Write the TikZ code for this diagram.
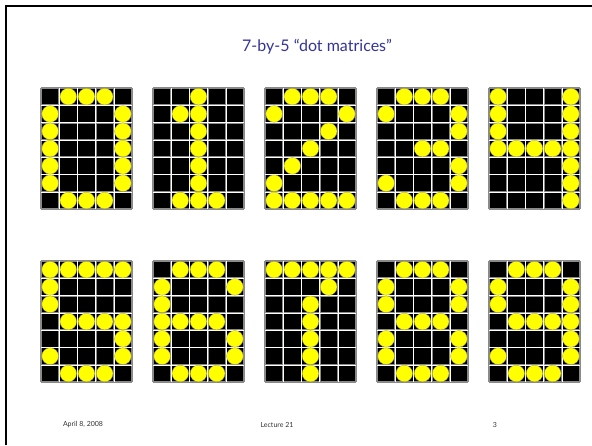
\documentclass[tikz,border=0pt]{standalone}
\usepackage{fontspec}
\setmainfont{Lato}
\usepackage{xcolor}
\usepackage{tikz}
\usetikzlibrary{positioning}
\definecolor{titleblue}{HTML}{333399}
\definecolor{dotyellow}{HTML}{FFFF00}
\definecolor{gridgray}{HTML}{8A8A8A}

\newcommand{\cellw}{18.2}
\newcommand{\cellh}{17.3}
% #1 = left x, #2 = top y, #3 = the seven rows, in binary
\newcommand{\dotmatrix}[3]{%
    \fill[black] (#1,#2) rectangle ++(5*\cellw,7*\cellh);
    \foreach \i in {0,...,5}
        \draw[gridline] (#1+\i*\cellw,#2) -- ++(0,7*\cellh);
    \foreach \j in {0,...,7}
        \draw[gridline] (#1,#2+\j*\cellh) -- ++(5*\cellw,0);
    \foreach \i in {1,...,4}
        \draw[gridlight] (#1+\i*\cellw,#2) -- ++(0,7*\cellh);
    \foreach \j in {1,...,6}
        \draw[gridlight] (#1,#2+\j*\cellh) -- ++(5*\cellw,0);
    \foreach \row [count=\r] in {#3} {
        \foreach \c in {1,...,5} {
            \pgfmathtruncatemacro\lit{mod(floor(0b\row/2^(5-\c)),2)}
            \ifnum\lit=1
                \fill[dotlamp] (#1+\c*\cellw-0.5*\cellw,#2+\r*\cellh-0.5*\cellh) circle (8.3);
            \fi
        }
    }
}

\begin{document}
\begin{tikzpicture}[
    x=1pt, y=-1pt,
    gridline/.style={draw=gridgray, line width=1.8pt},
    gridlight/.style={draw=white, line width=0.6pt},
    dotlamp/.style={fill=dotyellow, draw=yellow!60!black, line width=0.3pt},
    footer/.style={font=\fontsize{7}{8}\selectfont, text=black!80},
]
    \useasboundingbox (0,0) rectangle (592,445);
    \fill[white] (0,0) rectangle (592,445);

    % Slide frame
    \draw[line width=2.2pt, black] (6,445) -- (6,6) -- (592,6);

    % Title
    \node[font=\fontsize{16}{19}\selectfont, text=titleblue] (title) at (317,47) {7-by-5 “dot matrices”};

    % Digits 0 to 4
    \dotmatrix{41}{88}{01110,10001,10001,10001,10001,10001,01110}
    \dotmatrix{153}{88}{00100,01100,00100,00100,00100,00100,01110}
    \dotmatrix{265}{88}{01110,10001,00010,00100,01000,10000,11111}
    \dotmatrix{377}{88}{01110,10001,00001,00110,00001,10001,01110}
    \dotmatrix{489}{88}{10001,10001,10001,11111,00001,00001,00001}

    % Digits 5 to 9
    \dotmatrix{41}{261}{11111,10000,10000,01111,00001,10001,01110}
    \dotmatrix{153}{261}{01110,10001,10000,11110,10001,10001,01110}
    \dotmatrix{265}{261}{11111,00010,00100,00100,00100,00100,00100}
    \dotmatrix{377}{261}{01110,10001,10001,01110,10001,10001,01110}
    \dotmatrix{489}{261}{01110,10001,10001,01111,00001,10001,01110}

    % Footer
    \node[footer] (date) at (83,425) {April 8, 2008};
    \node[footer] (lecture) at (277,425) {Lecture 21};
    \node[footer] (page) at (495,425) {3};

\end{tikzpicture}
\end{document}
